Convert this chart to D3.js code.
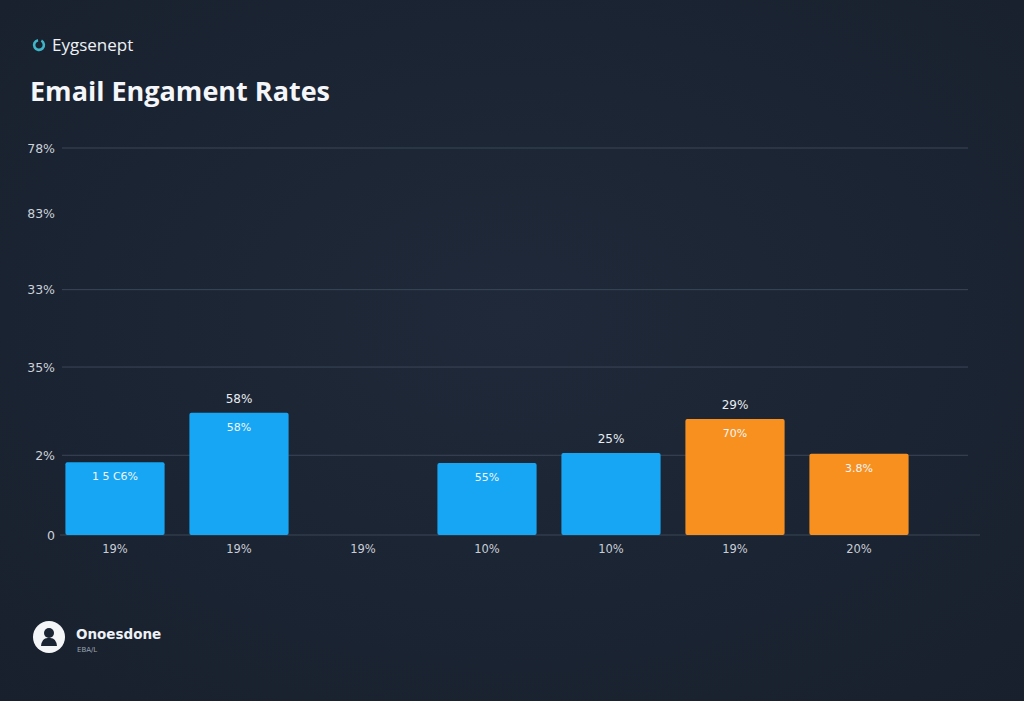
<!DOCTYPE html>
<html><head><meta charset="utf-8">
<script src="https://cdn.jsdelivr.net/npm/d3@7"></script>
<style>
html,body{margin:0;padding:0;background:#1b2433;}
svg{display:block;}
</style></head>
<body>
<svg id="c" width="1024" height="701"></svg>
<script>
const categories = ["19%", "19%", "19%", "10%", "10%", "19%", "20%"];
const values = [9.4, 15.8, 0, 9.3, 10.6, 15.0, 10.5];
const groups = ["blue", "blue", "blue", "blue", "blue", "orange", "orange"];
const innerLabels = ["1 5 C6%", "58%", "", "55%", "", "70%", "3.8%"];
const topLabels = ["", "58%", "", "", "25%", "29%", ""];
const tickValues = [0, 10.3, 21.7, 31.7, 41.5, 50];
const tickLabels = ["0", "2%", "35%", "33%", "83%", "78%"];
const gridValues = [10.3, 21.7, 31.7, 50];

const svg = d3.select("#c");
const W = 1024, H = 701;

const defs = svg.append("defs");
const rg = defs.append("radialGradient").attr("id","bg").attr("cx","50%").attr("cy","45%").attr("r","75%");
rg.append("stop").attr("offset","0%").attr("stop-color","#1f2939");
rg.append("stop").attr("offset","100%").attr("stop-color","#18202d");
svg.append("rect").attr("width",W).attr("height",H).attr("fill","url(#bg)");

const x = d3.scaleBand().domain(d3.range(categories.length)).range([53, 921]).paddingInner(0.2).paddingOuter(0.1);
const y = d3.scaleLinear().domain([0, 50]).range([535, 148]);
const color = d3.scaleOrdinal().domain(["blue","orange"]).range(["#16a6f3","#f8901f"]);

// header
const hdr = svg.append("g");
hdr.append("path").attr("d", d3.arc()({innerRadius:3.6, outerRadius:6.2, startAngle:0.5, endAngle:2*Math.PI-0.2}))
  .attr("transform","translate(39,45)").attr("fill","#3fb6c8");
hdr.append("text").attr("x",52).attr("y",51).attr("fill","#eef1f5").attr("font-family","Open Sans, sans-serif").attr("font-size",17).attr("font-weight",500).text("Eygsenept");
hdr.append("text").attr("x",30).attr("y",101).attr("fill","#f4f6f9").attr("font-family","Open Sans, sans-serif").attr("font-size",27).attr("font-weight",700).text("Email Engament Rates");

// grid
svg.append("g").selectAll("line").data(gridValues).join("line")
  .attr("x1",62).attr("x2",968).attr("y1",d=>y(d)).attr("y2",d=>y(d))
  .attr("stroke","#3b4657").attr("stroke-width",1);
svg.append("line").attr("x1",60).attr("x2",980).attr("y1",y(0)).attr("y2",y(0)).attr("stroke","#3b4657");

// y axis
const yAxis = d3.axisLeft(y).tickValues(tickValues).tickFormat((d,i)=>tickLabels[i]).tickSize(0).tickPadding(0);
const ya = svg.append("g").attr("transform","translate(55,0)").call(yAxis);
ya.select(".domain").remove();
ya.selectAll("text").attr("fill","#ccd1d8").attr("font-family","DejaVu Sans, sans-serif").attr("font-size",12.5);

// x axis
const xAxis = d3.axisBottom(x).tickFormat(i=>categories[i]).tickSize(0).tickPadding(0);
const xa = svg.append("g").attr("transform","translate(0,545)").call(xAxis);
xa.select(".domain").remove();
xa.selectAll("text").attr("fill","#c9ced6").attr("font-family","DejaVu Sans, sans-serif").attr("font-size",11.5);

// bars
const bars = svg.append("g").selectAll("g").data(values.map((v,i)=>({v,i}))).join("g");
bars.filter(d=>d.v>0).append("rect")
  .attr("x",d=>x(d.i)).attr("width",x.bandwidth())
  .attr("y",d=>y(d.v)).attr("height",d=>y(0)-y(d.v))
  .attr("rx",2).attr("fill",d=>color(groups[d.i]));
bars.filter(d=>innerLabels[d.i]).append("text")
  .attr("x",d=>x(d.i)+x.bandwidth()/2).attr("y",d=>y(d.v)+18)
  .attr("text-anchor","middle").attr("fill","#f2f6fa").attr("font-family","DejaVu Sans, sans-serif").attr("font-size",11)
  .text(d=>innerLabels[d.i]);
bars.filter(d=>topLabels[d.i]).append("text")
  .attr("x",d=>x(d.i)+x.bandwidth()/2).attr("y",d=>y(d.v)-10)
  .attr("text-anchor","middle").attr("fill","#e8ecf1").attr("font-family","DejaVu Sans, sans-serif").attr("font-size",12)
  .text(d=>topLabels[d.i]);

// footer
const ft = svg.append("g");
ft.append("circle").attr("cx",49).attr("cy",637).attr("r",16).attr("fill","#f4f5f7");
ft.append("circle").attr("cx",49).attr("cy",633).attr("r",5).attr("fill","#1b2433");
ft.append("path").attr("d","M41,646 Q42,637 49,638 Q56,637 57,646 Z").attr("fill","#1b2433");
ft.append("text").attr("x",76).attr("y",639).attr("fill","#eef1f5").attr("font-family","DejaVu Sans, sans-serif").attr("font-size",13.5).attr("font-weight",600).text("Onoesdone");
ft.append("text").attr("x",77).attr("y",652).attr("fill","#9aa3b0").attr("font-family","DejaVu Sans, sans-serif").attr("font-size",7).text("EBA/L");
</script>
</body></html>
